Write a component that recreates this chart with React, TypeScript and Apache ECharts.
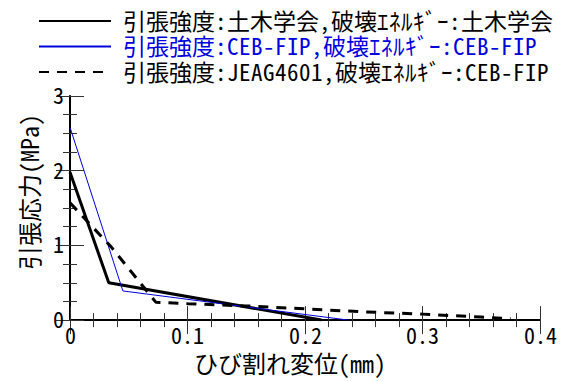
import React, { useEffect, useRef } from "react";
import * as echarts from "echarts";

const seriesNames = [
  "引張強度:土木学会,破壊ｴﾈﾙｷﾞｰ:土木学会",
  "引張強度:CEB-FIP,破壊ｴﾈﾙｷﾞｰ:CEB-FIP",
  "引張強度:JEAG4601,破壊ｴﾈﾙｷﾞｰ:CEB-FIP",
];
const jsceX = [0, 0.033, 0.214];
const jsceY = [1.98, 0.5, 0];
const cebX = [0, 0.045, 0.237];
const cebY = [2.58, 0.39, 0];
const jeagX = [0, 0.035, 0.073, 0.1, 0.15, 0.2, 0.25, 0.3, 0.35, 0.375];
const jeagY = [1.57, 0.98, 0.24, 0.22, 0.19, 0.15, 0.11, 0.08, 0.04, 0.02];
const xTicks = [0, 0.1, 0.2, 0.3, 0.4];
const yTicks = [0, 1, 2, 3];

const pair = (xs: number[], ys: number[]) => xs.map((x, i) => [x, ys[i]]);

const FONT_CSS = `@font-face{font-family:"GothicMono";src:local("Noto Sans Mono CJK JP"),local("Noto Sans Mono CJK JP Regular"),local("NotoSansMonoCJKjp-Regular"),local("NotoSansMonoCJKJP-Regular");ascent-override:88%;descent-override:12%;line-gap-override:0%;}`;
const FONT = "GothicMono, 'Noto Sans Mono CJK JP', 'Liberation Mono', 'Noto Sans CJK JP', sans-serif";

function buildOption() {
  const axisLine = { show: true, lineStyle: { color: "#000", width: 2 } };
  const axisTick = { show: true, inside: true, length: 14, lineStyle: { color: "#333", width: 1 } };
  const minorTickX = { show: true, splitNumber: 5, length: 7, lineStyle: { color: "#333", width: 1 } };
  const minorTickY = { show: true, splitNumber: 4, length: 7, lineStyle: { color: "#333", width: 1 } };
  return {
    animation: false,
    backgroundColor: "#fff",
    legend: {
      orient: "vertical",
      left: 33,
      top: 4,
      padding: 5,
      itemWidth: 72,
      itemHeight: 14,
      itemGap: 1.5,
      itemStyle: { opacity: 0 },
      textStyle: { fontFamily: FONT, fontSize: 23, lineHeight: 24, color: "#000", padding: [0, 0, 0, 7] },
      data: [
        { name: seriesNames[0], textStyle: { color: "#000" } },
        { name: seriesNames[1], textStyle: { color: "#0000dd" } },
        { name: seriesNames[2], textStyle: { color: "#000" } },
      ],
    },
    grid: { left: 70, right: 29, top: 96, bottom: 56, containLabel: false },
    xAxis: [
      {
        type: "value",
        min: 0,
        max: 0.4,
        interval: 0.1,
        name: "ひび割れ変位(mm)",
        nameLocation: "middle",
        nameGap: 32,
        nameTextStyle: { fontFamily: FONT, fontSize: 24, lineHeight: 22, color: "#000", padding: [0, 30, 0, 0] },
        axisLine,
        axisTick,
        minorTick: minorTickX,
        splitLine: { show: false },
        axisLabel: {
          fontFamily: FONT,
          fontSize: 22,
          lineHeight: 20,
          color: "#000",
          margin: 6,
          formatter: (v: number) => {
            const t = xTicks.find((k) => Math.abs(k - v) < 1e-9);
            return t === undefined ? "" : t === 0 ? "0" : t.toFixed(1);
          },
        },
      },
      {
        type: "value",
        position: "top",
        min: 0,
        max: 0.4,
        interval: 0.1,
        axisLine: { show: true, lineStyle: { color: "#000", width: 1.5 } },
        axisTick,
        minorTick: minorTickX,
        splitLine: { show: false },
        axisLabel: { show: false },
      },
    ],
    yAxis: [
      {
        type: "value",
        min: 0,
        max: 3,
        interval: 1,
        name: "引張応力(MPa)",
        nameLocation: "middle",
        nameGap: 27,
        nameRotate: 90,
        nameTextStyle: { fontFamily: FONT, fontSize: 24, lineHeight: 22, color: "#000", padding: [0, 0, 0, 32] },
        axisLine,
        axisTick,
        minorTick: minorTickY,
        splitLine: { show: false },
        axisLabel: {
          fontFamily: FONT,
          fontSize: 22,
          lineHeight: 20,
          color: "#000",
          margin: 6,
          formatter: (v: number) => {
            const t = yTicks.find((k) => Math.abs(k - v) < 1e-9);
            return t === undefined ? "" : String(t);
          },
        },
      },
      {
        type: "value",
        position: "right",
        min: 0,
        max: 3,
        interval: 1,
        axisLine: { show: true, lineStyle: { color: "#000", width: 1.5 } },
        axisTick,
        minorTick: minorTickY,
        splitLine: { show: false },
        axisLabel: { show: false },
      },
    ],
    series: [
      {
        name: seriesNames[0],
        type: "line",
        data: pair(jsceX, jsceY),
        symbol: "none",
        lineStyle: { color: "#000", width: 3 },
        itemStyle: { color: "#000" },
      },
      {
        name: seriesNames[1],
        type: "line",
        data: pair(cebX, cebY),
        symbol: "none",
        lineStyle: { color: "#0000dd", width: 1 },
        itemStyle: { color: "#0000dd" },
      },
      {
        name: seriesNames[2],
        type: "line",
        data: pair(jeagX, jeagY),
        symbol: "none",
        lineStyle: { color: "#000", width: 3, type: [10, 8] },
        itemStyle: { color: "#000" },
      },
    ],
  };
}

export default function App() {
  const ref = useRef<HTMLDivElement>(null);
  useEffect(() => {
    if (!ref.current) return;
    const el = ref.current;
    let chart: echarts.ECharts | null = echarts.init(el, undefined, { renderer: "svg" });
    chart.setOption(buildOption() as any);
    let alive = true;
    const fonts: any = (document as any).fonts;
    if (fonts && fonts.load) {
      fonts
        .load("23px GothicMono", "引A")
        .then(() => {
          if (alive && chart) {
            chart.setOption(buildOption() as any, true);
          }
        })
        .catch(() => {});
    }
    return () => {
      alive = false;
      chart?.dispose();
      chart = null;
    };
  }, []);
  return (
    <>
      <style>{FONT_CSS}</style>
      <div ref={ref} style={{ width: 569, height: 381, position: "absolute", left: 0, top: 0 }} />
    </>
  );
}
